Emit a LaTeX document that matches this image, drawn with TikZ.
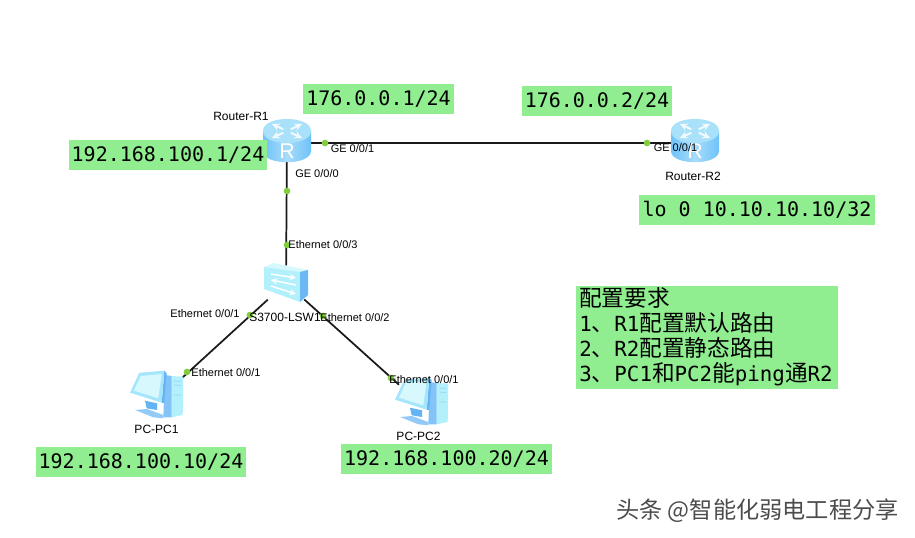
\documentclass[tikz,border=0pt]{standalone}
\usepackage{fontspec}
\setmainfont{Liberation Sans}
\newfontfamily\ipfont{DejaVu Sans Mono}
\newfontfamily\cjkfont{Noto Sans CJK SC}
\usepackage{xcolor}
\usetikzlibrary{positioning, calc}
\definecolor{notegreen}{RGB}{144,238,144}
\definecolor{portgreen}{RGB}{130,205,60}
\definecolor{routertop}{RGB}{170,225,250}
\definecolor{routerside}{RGB}{110,195,248}
\definecolor{switchfront}{RGB}{178,240,252}
\definecolor{switchside}{RGB}{108,184,245}
\definecolor{switchtop}{RGB}{215,248,253}
\definecolor{pcscreen}{RGB}{165,230,252}
\definecolor{pcblue}{RGB}{100,180,245}
\newcommand{\fsize}[1]{\fontsize{#1}{#1}\selectfont}
\newcommand{\latn}[1]{{\ipfont\fsize{15.6}#1}}
\tikzset{
  link/.style={line width=1.3pt, black!90},
  portdot/.style={circle, fill=portgreen, inner sep=0pt, minimum size=5pt},
  portlabel/.style={font=\fsize{8.25}, inner sep=0pt},
  devlabel/.style={font=\fsize{9}, inner sep=0pt},
  iplabel/.style={fill=notegreen, font=\ipfont\fsize{15}, inner sep=0pt, minimum height=22.5pt, align=center},
  noteline/.style={anchor=west, inner sep=0pt, font=\cjkfont\fsize{17}},
  routernode/.style={minimum width=36pt, minimum height=27pt, inner sep=0pt},
  switchnode/.style={minimum width=27pt, minimum height=25.5pt, inner sep=0pt},
  pcnode/.style={minimum width=27pt, minimum height=24pt, inner sep=0pt},
  routericon/.pic={
    \shade[left color=routerside, right color=routerside, middle color=routerside!60!white]
      (-24,-12) -- (-24,8) .. controls (-24,23) and (24,23) .. (24,8) -- (24,-12) -- cycle;
    \fill[routertop] (-24,-12) .. controls (-24,-28) and (24,-28) .. (24,-12)
      .. controls (24,4) and (-24,4) .. (-24,-12) -- cycle;
    \foreach \ex/\ey in {-15/-19,15/-19,-15/-5,15/-5}
      \draw[white!85!routertop, line width=1.5pt, ->, >=stealth] ({\ex*0.25},{-12+(\ey+12)*0.25}) -- (\ex,\ey);
    \node[text=white, font=\fsize{16}, inner sep=0pt] at (0,8) {R};
  },
  switchicon/.pic={
    \fill[switchtop] (-22,-16) -- (-13,-20) -- (22,-13) -- (14,-11) -- cycle;
    \fill[switchfront] (-22,-16) -- (14,-11) -- (14,19) -- (-22,6) -- cycle;
    \fill[switchside] (14,-11) -- (22,-13) -- (22,12) -- (14,19) -- cycle;
    \draw[white, line width=1.1pt, ->, >=stealth] (-15,-9) -- (10,-5);
    \draw[white, line width=1.1pt, <-, >=stealth] (-15,-3) -- (10,2);
    \draw[white, line width=1.1pt, ->, >=stealth] (-15,3) -- (10,11);
  },
  pcicon/.pic={
    % tower
    \fill[switchfront] (14.7,-19) -- (26.3,-18.3) -- (25.7,20) -- (14.7,22.3) -- cycle;
    \fill[pcblue!80!white] (8,-20) -- (14.7,-19) -- (14.7,22.3) -- (6.3,22.3) -- cycle;
    \draw[pcblue!60!white, line width=.6pt] (17,-14) -- (24,-13.5) (17,-10) -- (24,-9.5) (17,0) -- (24,0);
    % stand and base
    \fill[pcblue] (-12,5.7) -- (0,8.3) -- (0,15) -- (-10.3,13.3) -- cycle;
    \fill[pcblue!70!white] (-22,15) -- (-10,14) -- (6.3,20) -- (6.3,23.3) -- (-3.7,22.3) -- cycle;
    % monitor
    \fill[pcblue] (7.3,-24.3) -- (9.7,-21.7) -- (7,8.3) -- (4.7,7.7) -- cycle;
    \fill[pcscreen] (-17.7,-22.3) -- (7.3,-24.3) -- (4.7,7.7) -- (-27,-2.3) -- cycle;
    \fill[switchtop] (-16.3,-19) -- (4.7,-21) -- (1.3,3.3) -- (-23,-4.3) -- cycle;
  },
}
\begin{document}
\begin{tikzpicture}[x=0.75pt, y=-0.75pt]
  \useasboundingbox (0,0) rectangle (915,538);
  \node[routernode] (R1) at (287,143) {};
  \node[routernode] (R2) at (695,143) {};
  \node[switchnode] (SW) at (286,283) {};
  \node[pcnode] (PC1) at (164.5,394) {};
  \node[pcnode] (PC2) at (417,401) {};
  % links first, the icons lie on top
  \draw[link] (R1) -- (R2);
  \draw[link] (R1) -- (SW);
  \draw[link] (SW) -- (PC1);
  \draw[link] (SW) -- (PC2);
  \pic at (R1) {routericon};
  \pic at (R2) {routericon};
  \pic at (SW) {switchicon};
  \pic at ($(PC1)+(-7.5,1)$) {pcicon};
  \pic at ($(PC2)+(5,1)$) {pcicon};
  \node[portdot] (p1) at (325,143) {};
  \node[portdot] (p2) at (647,143) {};
  \node[portdot] (p3) at (287,191) {};
  \node[portdot] (p4) at (287,245) {};
  \node[portdot] (p5) at (250,315) {};
  \node[portdot] (p6) at (323,316) {};
  \node[portdot] (p7) at (187,372) {};
  \node[portdot] (p8) at (391,378) {};
  \node[portlabel] at (352.5,149) {GE 0/0/1};
  \node[portlabel] at (675.5,148) {GE 0/0/1};
  \node[portlabel] at (317,174) {GE 0/0/0};
  \node[portlabel] at (323,245) {Ethernet 0/0/3};
  \node[portlabel] at (205,314) {Ethernet 0/0/1};
  \node[portlabel] at (355,318) {Ethernet 0/0/2};
  \node[portlabel] at (226,373) {Ethernet 0/0/1};
  \node[portlabel] at (424,380) {Ethernet 0/0/1};
  \node[devlabel] at (241,116) {Router-R1};
  \node[devlabel] at (693,176) {Router-R2};
  \node[devlabel] at (285,317) {S3700-LSW1};
  \node[devlabel] at (156.5,429) {PC-PC1};
  \node[devlabel] at (418.5,436.5) {PC-PC2};
  \node[iplabel, minimum width=113pt] (ip1) at (378.5,99) {176.0.0.1/24};
  \node[iplabel, minimum width=112.5pt] (ip2) at (597,101) {176.0.0.2/24};
  \node[iplabel, minimum width=148.5pt] (ip3) at (168,155) {192.168.100.1/24};
  \node[iplabel, minimum width=177pt] (ip4) at (757,210) {lo 0 10.10.10.10/32};
  \node[iplabel, minimum width=157.5pt] (ip5) at (141,462) {192.168.100.10/24};
  \node[iplabel, minimum width=158pt] (ip6) at (446.5,459) {192.168.100.20/24};
  % requirements box
  \node[fill=notegreen, minimum width=196.5pt, minimum height=77.25pt, inner sep=0pt] (note) at (707,337.5) {};
  \node[noteline] (t1) at (579,298) {配置要求};
  \node[noteline] (t2) at (579,323) {\latn{1}、\latn{R1}配置默认路由};
  \node[noteline] (t3) at (579,348) {\latn{2}、\latn{R2}配置静态路由};
  \node[noteline] (t4) at (579,374) {\latn{3}、\latn{PC1}和\latn{PC2}能\latn{ping}通\latn{R2}};
  \node[anchor=west, inner sep=0pt, text=black!70, font=\cjkfont\fsize{17.4}] (mark) at (616,511) {头条 @智能化弱电工程分享};
\end{tikzpicture}
\end{document}
